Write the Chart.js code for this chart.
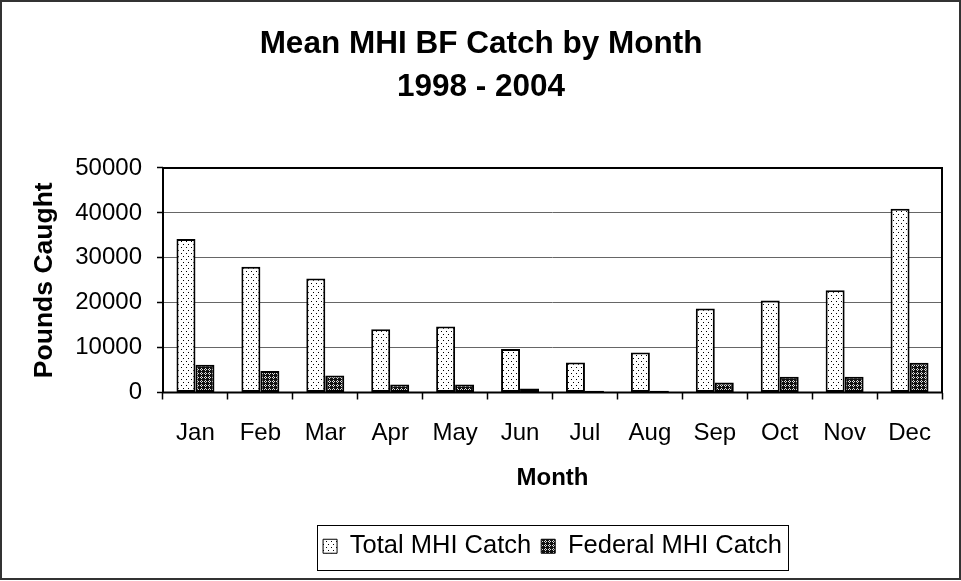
<!DOCTYPE html>
<html>
<head>
<meta charset="utf-8">
<title>Mean MHI BF Catch by Month</title>
<script src="https://cdn.jsdelivr.net/npm/chart.js@4.4.1/dist/chart.umd.min.js"></script>
<style>
  html, body { margin: 0; padding: 0; background: #fff; }
  #wrap { position: relative; width: 961px; height: 581px; }
</style>
</head>
<body>
<div id="wrap"><canvas id="chart"></canvas></div>
<script>
const months = ['Jan', 'Feb', 'Mar', 'Apr', 'May', 'Jun', 'Jul', 'Aug', 'Sep', 'Oct', 'Nov', 'Dec']
const totalCatch = [34200, 28000, 25400, 14100, 14700, 9700, 6700, 8900, 18700, 20500, 22800, 40900]
const federalCatch = [6200, 4800, 3800, 1800, 1800, 900, 400, 400, 2200, 3500, 3500, 6600]
const yTicks = [0, 10000, 20000, 30000, 40000, 50000]

const FONT = "'Liberation Sans', Arial, sans-serif"

// Excel-style fill patterns
function makePattern(w, h, bg, fg, pixels) {
  const c = document.createElement('canvas')
  c.width = w
  c.height = h
  const g = c.getContext('2d')
  g.fillStyle = bg
  g.fillRect(0, 0, w, h)
  g.fillStyle = fg
  pixels.forEach(p => g.fillRect(p[0], p[1], 1, 1))
  return g.createPattern(c, 'repeat')
}

const dotted = makePattern(5, 6, '#ffffff', '#000000', [[1, 1], [3, 4]])
const hatched = makePattern(4, 4, '#111111', '#e0e0e0', [[1, 0], [0, 1], [2, 1], [1, 2]])

// frames: whole chart, plot area, legend
const framePlugin = {
  id: 'frames',
  beforeDraw(chart) {
    const ctx = chart.ctx
    ctx.save()
    ctx.fillStyle = '#fff'
    ctx.fillRect(0, 0, chart.width, chart.height)
    ctx.restore()
  },
  afterDraw(chart) {
    const ctx = chart.ctx
    const a = chart.chartArea
    ctx.save()
    ctx.strokeStyle = '#000'
    ctx.lineWidth = 2
    ctx.strokeRect(a.left, a.top, a.right - a.left, a.bottom - a.top)

    const boxes = chart.legend.legendHitBoxes
    if (boxes && boxes.length) {
      const l = Math.min(...boxes.map(b => b.left)) - 6
      const r = Math.max(...boxes.map(b => b.left + b.width)) + 6
      const t = boxes[0].top - 9
      const btm = boxes[0].top + boxes[0].height + 10
      ctx.lineWidth = 1
      ctx.strokeRect(Math.round(l) + 0.5, Math.round(t) + 0.5, Math.round(r - l), Math.round(btm - t))
    }

    ctx.strokeStyle = '#333'
    ctx.lineWidth = 2
    ctx.strokeRect(1, 1, chart.width - 2, chart.height - 3)
    ctx.restore()
  }
}

const ctx = document.getElementById('chart').getContext('2d')

new Chart(ctx, {
  type: 'bar',
  data: {
    labels: months,
    datasets: [
      {
        label: 'Total MHI Catch',
        data: totalCatch,
        backgroundColor: dotted,
        borderColor: '#000',
        borderWidth: 2,
        borderSkipped: false
      },
      {
        label: 'Federal MHI Catch',
        data: federalCatch,
        backgroundColor: hatched,
        borderColor: '#000',
        borderWidth: 2,
        borderSkipped: false
      }
    ]
  },
  options: {
    responsive: true,
    maintainAspectRatio: false,
    animation: false,
    devicePixelRatio: 1,
    layout: {
      padding: { left: 20, right: 19, top: 0, bottom: 12 }
    },
    datasets: {
      bar: {
        categoryPercentage: 0.585,
        barPercentage: 1.0
      }
    },
    plugins: {
      title: {
        display: true,
        text: ['Mean MHI BF Catch by Month', '1998 - 2004'],
        color: '#000',
        font: { family: FONT, size: 31.5, weight: 'bold', lineHeight: 1.365 },
        padding: { top: 23, bottom: 59 }
      },
      legend: {
        position: 'bottom',
        fullSize: false,
        labels: {
          color: '#000',
          font: { family: FONT, size: 25.5 },
          boxWidth: 14,
          boxHeight: 14,
          padding: 10,
          generateLabels(chart) {
            const items = Chart.defaults.plugins.legend.labels.generateLabels(chart)
            return items.map(it => Object.assign(it, { lineWidth: 1 }))
          }
        }
      },
      tooltip: { enabled: false }
    },
    scales: {
      x: {
        grid: {
          display: true,
          offset: true,
          drawOnChartArea: false,
          drawTicks: true,
          tickLength: 7,
          tickColor: '#000',
          tickWidth: 1.5
        },
        border: { display: false },
        ticks: {
          color: '#000',
          font: { family: FONT, size: 24 },
          padding: 19,
          maxRotation: 0,
          autoSkip: false
        },
        title: {
          display: true,
          text: 'Month',
          color: '#000',
          font: { family: FONT, size: 24, weight: 'bold' },
          padding: { top: 0, bottom: 31 }
        },
        afterFit(scale) {
          scale.height = 131
        }
      },
      y: {
        min: 0,
        max: 50000,
        afterBuildTicks(scale) {
          scale.ticks = yTicks.map(v => ({ value: v }))
        },
        grid: {
          color: '#666',
          lineWidth: 1,
          drawTicks: true,
          tickLength: 6,
          tickColor: '#000',
          tickWidth: 1.5
        },
        border: { display: false },
        ticks: {
          color: '#000',
          font: { family: FONT, size: 24 },
          padding: 15,
          callback: v => String(v)
        },
        title: {
          display: true,
          text: 'Pounds Caught',
          color: '#000',
          font: { family: FONT, size: 26.5, weight: 'bold' },
          padding: { top: 9, bottom: 0 }
        },
        afterFit(scale) {
          scale.width = 143
        }
      }
    }
  },
  plugins: [framePlugin]
})
</script>
</body>
</html>
